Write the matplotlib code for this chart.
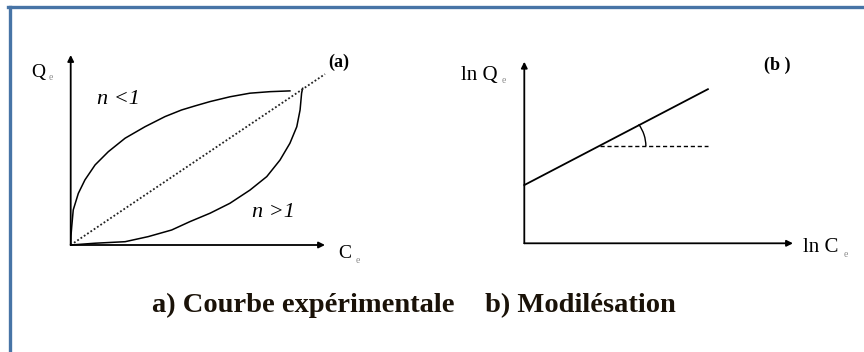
import matplotlib
matplotlib.use('Agg')

import numpy as np
import matplotlib.pyplot as plt
from matplotlib.patches import Arc
from matplotlib.lines import Line2D

plt.rcParams['font.family'] = ['Liberation Serif', 'DejaVu Serif']

W, H = 864, 352

# (a) experimental isotherm shapes, in axis units
conc_lo = [0, 0.01, 0.04, 0.10, 0.30, 0.56, 0.96, 1.48, 2.14, 2.92, 3.71, 4.36,
           4.89, 5.48, 6.27, 7.05, 7.84, 8.62]
qe_lo = [0, 0.35, 0.72, 1.38, 2.03, 2.56, 3.15, 3.67, 4.20, 4.65, 5.05, 5.31,
         5.47, 5.64, 5.83, 5.97, 6.03, 6.06]   # n < 1
conc_hi = [0, 0.96, 2.14, 3.05, 3.97, 4.69, 5.48, 6.26, 7.05, 7.71, 8.23, 8.62,
           8.89, 9.02, 9.08, 9.12]
qe_hi = [0, 0.07, 0.13, 0.33, 0.59, 0.92, 1.25, 1.64, 2.16, 2.69, 3.34, 4.00,
         4.65, 5.31, 5.97, 6.16]               # n > 1
conc_lin = [0, 10]
qe_lin = [0, 6.72]

# (b) linearised form ln Qe = ln K + (1/n) ln Ce
lnc = [0, 7.22]
lnq = [2.29, 6.06]
ref_x = [2.98, 7.22]
ref_y = [3.82, 3.82]
angle_deg = 27.5

fig = plt.figure(figsize=(W / 100, H / 100), dpi=100)


def px_box(x0, y0, x1, y1):
    # pixel box (top-left origin) -> figure fraction rect
    return [x0 / W, (H - y1) / H, (x1 - x0) / W, (y1 - y0) / H]


def bare(ax, xmax, ymax):
    ax.set_xlim(0, xmax)
    ax.set_ylim(0, ymax)
    for s in ax.spines.values():
        s.set_visible(False)
    ax.set_xticks([])
    ax.set_yticks([])
    ax.patch.set_alpha(0)
    arrow = dict(arrowstyle='-|>', color='k', lw=1.3, mutation_scale=9, shrinkA=0, shrinkB=0)
    ax.annotate('', xy=(xmax, 0), xytext=(0, 0), arrowprops=arrow, annotation_clip=False)
    ax.annotate('', xy=(0, ymax), xytext=(0, 0), arrowprops=arrow, annotation_clip=False)


unit = 25.43
ax1 = fig.add_axes(px_box(70.7, 55, 325, 245))
bare(ax1, 10, 190 / unit)
ax1.plot(conc_lo, qe_lo, color='k', lw=1.1, clip_on=False, solid_joinstyle='round')
ax1.plot(conc_hi, qe_hi, color='k', lw=1.1, clip_on=False, solid_joinstyle='round')
ax1.plot(conc_lin, qe_lin, color='#222222', lw=1.3, ls=(0, (1, 1.2)), clip_on=False)

ax2 = fig.add_axes(px_box(524.3, 61.7, 793, 243.3))
bare(ax2, 268.7 / unit, 181.6 / unit)
ax2.plot(lnc, lnq, color='k', lw=1.3, clip_on=False)
ax2.plot(ref_x, ref_y, color='k', lw=1.0, ls=(0, (3, 2)), clip_on=False)
ax2.add_patch(Arc((ref_x[0], ref_y[0]), 3.6, 3.2, theta1=0, theta2=angle_deg + 2, color='k', lw=1.0))

# labels
def ftext(x, y, s, **kw):
    fig.text(x / W, (H - y) / H, s, va='baseline', ha='left', **kw)

sub = dict(fontsize=7, color='#8c8c8c')
ftext(31.7, 77, 'Q', fontsize=14)
ftext(49, 80, 'e', **sub)
ftext(328, 67, '(a)', fontsize=13, fontweight='bold')
ftext(97, 104, 'n <1', fontsize=16, style='italic')
ftext(251.7, 216.7, 'n >1', fontsize=16, style='italic')
ftext(338, 258, 'C', fontsize=14)
ftext(356, 263, 'e', **sub)

ftext(461.3, 80, 'ln Q', fontsize=15)
ftext(502, 83, 'e', **sub)
ftext(763.7, 70, '(b )', fontsize=13, fontweight='bold')
ftext(803.3, 252, 'ln C', fontsize=15)
ftext(844, 257, 'e', **sub)

ftext(152, 312, 'a) Courbe expérimentale', fontsize=20.5, fontweight='bold', color='#1a1208')
ftext(485, 312, 'b) Modilésation', fontsize=20.5, fontweight='bold', color='#1a1208')

# page frame (top and left rules)
blue = '#4774a6'
fig.add_artist(Line2D([8 / W, 1], [1 - 6.5 / H, 1 - 6.5 / H], color=blue, lw=2.4))
fig.add_artist(Line2D([9.5 / W, 9.5 / W], [0, 1 - 6.5 / H], color=blue, lw=2.4))

fig.savefig('out.png', dpi=100)
